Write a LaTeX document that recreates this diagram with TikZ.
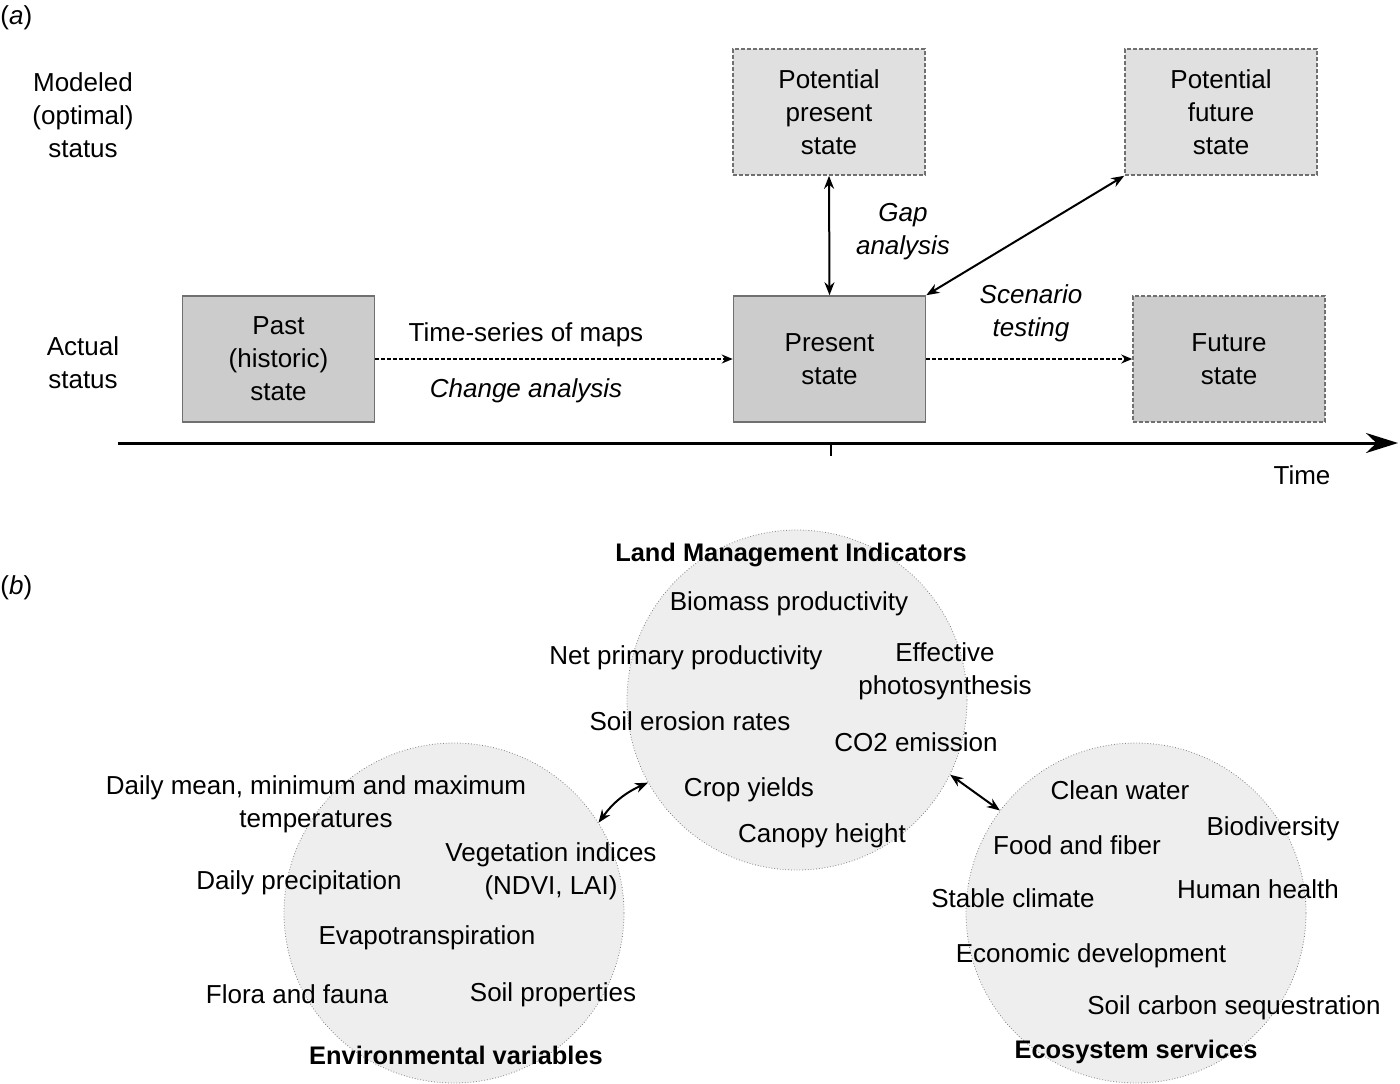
\documentclass[tikz,border=0pt]{standalone}
\usepackage{fontspec}
\setmainfont{Liberation Sans}
\usetikzlibrary{arrows.meta,shapes.geometric}
\definecolor{boxfill}{HTML}{CCCCCC}
\definecolor{potfill}{HTML}{E0E0E0}
\definecolor{circfill}{HTML}{EEEEEE}
\definecolor{boxline}{HTML}{707070}
\tikzset{
  txt/.style={font=\fontsize{13}{16.5}\selectfont, align=center, inner sep=0pt, yshift=-1.2pt},
  btxt/.style={txt, font=\fontsize{12.7}{16.5}\selectfont\bfseries},
  itxt/.style={txt, font=\fontsize{13}{16.5}\selectfont\itshape},
  actualbox/.style={font=\fontsize{13}{16.5}\selectfont, align=center, draw=boxline, line width=0.8pt, fill=boxfill, minimum width=96pt, minimum height=63pt},
  futurebox/.style={actualbox, dashed, dash pattern=on 2pt off 1pt},
  potbox/.style={actualbox, fill=potfill, dashed, dash pattern=on 2pt off 1pt},
  bubble/.style={circle, draw=gray, densely dotted, line width=0.4pt, fill=circfill, minimum size=170pt, inner sep=0pt},
  dblarrow/.style={{Stealth[length=6.5pt,width=5pt]}-{Stealth[length=6.5pt,width=5pt]}, line width=1pt},
  dasharrow/.style={-{Stealth[length=5.5pt,width=4.5pt]}, dashed, dash pattern=on 2pt off 1pt, line width=0.8pt},
}
\begin{document}
\begin{tikzpicture}[x=0.5pt,y=-0.5pt]
\useasboundingbox (0,0) rectangle (1400,1083);
% panel labels
\node[txt, anchor=west] (la) at (0,15) {(\textit{a})};
\node[txt, anchor=west] (lb) at (0,585) {(\textit{b})};
% row labels
\node[txt] (modeled) at (83,113) {Modeled\\(optimal)\\status};
\node[txt] (actual) at (83,360) {Actual\\status};
% boxes
\node[actualbox] (past) at (278.5,359) {Past\\(historic)\\state};
\node[actualbox] (ps) at (829.5,359) {Present\\state};
\node[futurebox] (fs) at (1229,359) {Future\\state};
\node[potbox] (pps) at (829,112) {Potential\\present\\state};
\node[potbox] (pfs) at (1221,112) {Potential\\future\\state};
% connectors
\draw[dasharrow] (past.east) -- (ps.west);
\draw[dasharrow] (ps.east) -- (fs.west);
\draw[dblarrow] (pps.south) -- (ps.north);
\draw[dblarrow] (pfs.south west) -- (ps.north east);
% connector labels
\node[txt] (tsm) at (526,332) {Time-series of maps};
\node[itxt] (cha) at (526,388) {Change analysis};
\node[itxt] (gap) at (903,229) {Gap\\analysis};
\node[itxt] (scen) at (1031,311) {Scenario\\testing};
% time axis
\coordinate (axs) at (118,443);
\coordinate (axe) at (1398,443);
\coordinate (tka) at (831,443);
\coordinate (tkb) at (831,456);
\draw[line width=1.5pt, -{Stealth[length=16pt,width=10pt]}] (axs) -- (axe);
\draw[line width=0.8pt] (tka) -- (tkb);
\node[txt] (time) at (1302,473) {Time};
% bubbles
\node[bubble] (lmi) at (797,700) {};
\node[bubble] (env) at (454,913) {};
\node[bubble] (eco) at (1136,913) {};
\draw[dblarrow] (env.32) to[bend left=15] (lmi.209);
\draw[dblarrow] (lmi.334) -- (eco.143);
% top bubble texts
\node[btxt] (t0) at (791,553) {Land Management Indicators};
\node[txt] (t1) at (789,601) {Biomass productivity};
\node[txt] (t2) at (686,655) {Net primary productivity};
\node[txt] (t3) at (945,669) {Effective\\photosynthesis};
\node[txt] (t4) at (690,719) {Soil erosion rates};
\node[txt] (t5) at (916,740) {CO2 emission};
\node[txt] (t6) at (749,787) {Crop yields};
\node[txt] (t7) at (822,833) {Canopy height};
% left bubble texts
\node[txt] (e1) at (316,802) {Daily mean, minimum and maximum\\temperatures};
\node[txt] (e2) at (551,869) {Vegetation indices\\(NDVI, LAI)};
\node[txt] (e3) at (299,880) {Daily precipitation};
\node[txt] (e4) at (427,935) {Evapotranspiration};
\node[txt] (e5) at (297,992) {Flora and fauna};
\node[txt] (e6) at (553,992) {Soil properties};
\node[btxt] (e0) at (456,1053) {Environmental variables};
% right bubble texts
\node[txt] (s1) at (1120,788) {Clean water};
\node[txt] (s2) at (1273,826) {Biodiversity};
\node[txt] (s3) at (1077,843) {Food and fiber};
\node[txt] (s4) at (1258,887) {Human health};
\node[txt] (s5) at (1013,896) {Stable climate};
\node[txt] (s6) at (1091,953) {Economic development};
\node[txt] (s7) at (1234,1005) {Soil carbon sequestration};
\node[btxt] (s0) at (1136,1050) {Ecosystem services};
\end{tikzpicture}
\end{document}
